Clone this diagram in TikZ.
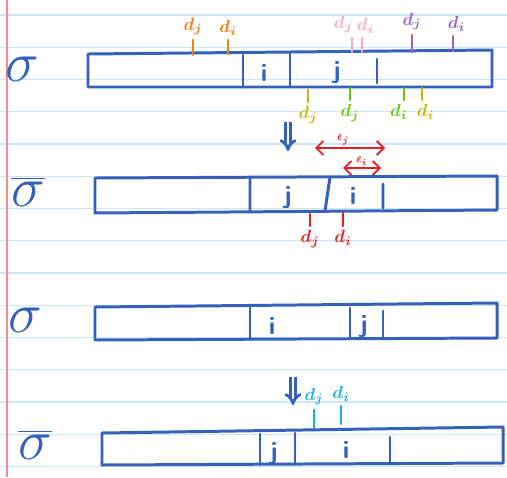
\documentclass[tikz,border=0pt]{standalone}
\usetikzlibrary{arrows.meta}

\definecolor{blu}{RGB}{52,98,186}
\definecolor{arancio}{RGB}{245,125,10}
\definecolor{rosa}{RGB}{248,170,200}
\definecolor{viola}{RGB}{150,100,200}
\definecolor{oliva}{RGB}{200,180,10}
\definecolor{verde}{RGB}{100,200,10}
\definecolor{rosso}{RGB}{230,30,40}
\definecolor{ciano}{RGB}{20,180,230}
\definecolor{riga}{RGB}{205,230,247}
\definecolor{margine}{RGB}{245,140,140}

\tikzset{
  barra/.style={blu, line width=1.7pt, line join=round, line cap=round},
  tacca/.style={line width=1.3pt, line cap=round},
  lab/.style={font=\boldmath, inner sep=2pt},
  job/.style={blu, font=\Large\sffamily\bfseries},
  perm/.style={blu, font=\Huge, scale=1.3},
  giu/.style={blu, line width=1.6pt, double, double distance=1.4pt, -{Implies}},
  doppia/.style={line width=1.1pt, {Straight Barb[length=4pt]}-{Straight Barb[length=4pt]}},
}

\begin{document}
\begin{tikzpicture}[x=0.02cm, y=-0.02cm]
    \useasboundingbox (0,0) rectangle (507,477);

    % Righe del quaderno
    \foreach \r in {0,...,14}
        \draw[riga, line width=0.6pt] (0,15+32.25*\r) -- (507,15+32.25*\r);
    \draw[margine, line width=0.8pt] (7,0) -- (7,477);

    % Prima sequenza sigma
    \node[perm] (s1) at (22,69) {$\sigma$};
    \draw[barra] (88,54) -- (492,50) -- (492,87) -- (88,87) -- cycle;
    \draw[barra] (243,55) -- (243,87) (290,53) -- (290,87) (377,59) -- (377,83);
    \node[job] (i1) at (264,73) {i};
    \node[job] (j1) at (337,73) {j};

    % Scadenze sopra
    \draw[tacca, arancio] (193,55) -- (193,40) node[lab, above] (oj) {$d_j$};
    \draw[tacca, arancio] (228,54) -- (228,40) node[lab, above] (oi) {$d_i$};
    \draw[tacca, rosa] (352,52) -- (352,38) node[lab, above, xshift=-5pt] (pj) {$d_j$};
    \draw[tacca, rosa] (362,52) -- (362,38) node[lab, above, xshift=2pt] (pi) {$d_i$};
    \draw[tacca, viola] (412,52) -- (412,35) node[lab, above] (vj) {$d_j$};
    \draw[tacca, viola] (453,51) -- (453,36) node[lab, above, xshift=2pt] (vi) {$d_i$};

    % Scadenze sotto
    \draw[tacca, oliva] (308,90) -- (308,102) node[lab, below] (gj) {$d_j$};
    \draw[tacca, verde] (350,88) -- (350,100) node[lab, below] (ej) {$d_j$};
    \draw[tacca, verde] (404,88) -- (404,100) node[lab, below, xshift=-3pt] (ei) {$d_i$};
    \draw[tacca, oliva] (422,88) -- (422,100) node[lab, below, xshift=2pt] (gi) {$d_i$};

    % Scambio
    \draw[giu] (288,122) -- (288,151);
    \draw[doppia, rosso] (315,148) -- node[lab, above, inner sep=1pt, font=\tiny\boldmath, xshift=-4pt] (lj) {$\ell_j$} (385,148);
    \draw[doppia, rosso] (343,168) -- node[lab, above, inner sep=1pt, font=\tiny\boldmath] (li) {$\ell_i$} (381,168);

    % Seconda sequenza sigma barrato
    \node[perm] (s2) at (28,192) {$\overline{\sigma}$};
    \draw[barra] (95,178) -- (497,176) -- (497,210) -- (95,213) -- cycle;
    \draw[barra] (250,178) -- (250,212) (330,177) -- (325,211) (383,184) -- (383,208);
    \node[job] (j2) at (288,198) {j};
    \node[job] (i2) at (353,196) {i};
    \draw[tacca, rosso] (310,214) -- (310,226) node[lab, below] (rj) {$d_j$};
    \draw[tacca, rosso] (343,213) -- (343,226) node[lab, below] (ri) {$d_i$};

    % Terza sequenza sigma
    \node[perm] (s3) at (25,320) {$\sigma$};
    \draw[barra] (95,307) -- (497,303) -- (497,338) -- (95,340) -- cycle;
    \draw[barra] (250,306) -- (250,340) (350,308) -- (350,337) (383,311) -- (383,337);
    \node[job] (i3) at (272,326) {i};
    \node[job] (j3) at (364,327) {j};

    % Scambio con scadenze vicine
    \draw[giu] (293,377) -- (293,405);
    \draw[tacca, ciano] (314,430) -- (314,410) node[lab, above] (cj) {$d_j$};
    \draw[tacca, ciano] (341,424) -- (341,406) node[lab, above] (ci) {$d_i$};

    % Quarta sequenza sigma barrato
    \node[perm] (s4) at (35,445) {$\overline{\sigma}$};
    \draw[barra] (102,433) -- (503,427) -- (503,463) -- (102,465) -- cycle;
    \draw[barra] (260,434) -- (260,465) (295,433) -- (295,464) (390,437) -- (390,462);
    \node[job] (j4) at (274,454) {j};
    \node[job] (i4) at (346,450) {i};
\end{tikzpicture}
\end{document}
